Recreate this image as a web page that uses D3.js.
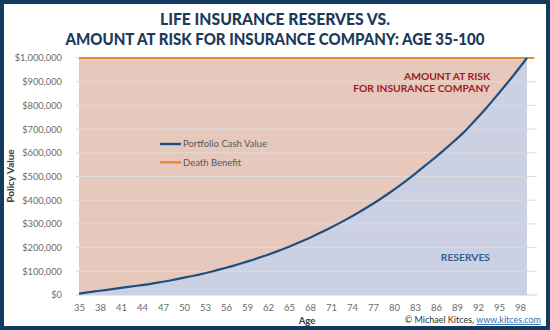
<!DOCTYPE html>
<html><head><meta charset="utf-8">
<script src="https://cdn.jsdelivr.net/npm/d3@7"></script>
<style>
html,body{margin:0;padding:0;background:#fff;}
svg{display:block;}
</style></head>
<body>
<svg id="c" width="550" height="330"></svg>
<script>
const ages = d3.range(35, 100);
// Portfolio cash value, ages 35..99 ($)
const cashValue = [
  6000, 10000, 14000, 18000, 22000, 26000, 30000, 34000, 38000, 42000,
  46000, 51000, 56000, 61000, 67000, 73000, 79000, 85000, 92000, 99000,
  107000, 115000, 123000, 132000, 141000, 150000, 160000, 170000, 181000, 192000,
  204000, 216000, 229000, 242000, 256000, 270000, 285000, 300000, 316000, 332000,
  349000, 367000, 385000, 404000, 424000, 445000, 466000, 488000, 511000, 535000,
  559000, 583000, 608000, 634000, 660000, 687000, 718000, 750000, 783000, 817000,
  852000, 888000, 924000, 962000, 1000000
];
const deathAges = d3.range(35, 101);
const deathBenefit = deathAges.map(() => 1000000);
const yTicks = [0,100000,200000,300000,400000,500000,600000,700000,800000,900000,1000000];
const xTicks = d3.range(35, 99, 3);
const titleLines = ["LIFE INSURANCE RESERVES VS.", "AMOUNT AT RISK FOR INSURANCE COMPANY: AGE 35-100"];
const seriesNames = ["Portfolio Cash Value", "Death Benefit"];

const svg = d3.select("#c");
const W = 550, H = 330;
svg.append("rect").attr("x",0).attr("y",0).attr("width",W).attr("height",H).attr("fill","#133b60");
svg.append("rect").attr("x",4).attr("y",4).attr("width",W-8).attr("height",H-8).attr("fill","#ffffff");

const x = d3.scaleLinear().domain([35, 99]).range([79, 527]);
const y = d3.scaleLinear().domain([0, 1000000]).range([295, 58]);

// areas
const pts = ages.map((a,i)=>({a, v: cashValue[i]}));
svg.append("path").datum(pts)
  .attr("fill","#e6c8bc")
  .attr("d", d3.area().x(d=>x(d.a)).y0(y(1000000)).y1(d=>y(d.v)));
svg.append("path").datum(pts)
  .attr("fill","#cbd1e3")
  .attr("d", d3.area().x(d=>x(d.a)).y0(y(0)).y1(d=>y(d.v)));

// gridlines
svg.append("g").selectAll("line").data(yTicks).join("line")
  .attr("x1",76).attr("x2",537)
  .attr("y1",d=>y(d)).attr("y2",d=>y(d))
  .attr("stroke",d=> d===0 ? "#d0d0d0" : "#dcdcdc").attr("stroke-width",1);

// y axis labels
const yAxis = d3.axisLeft(y).tickValues(yTicks).tickSize(0).tickPadding(0)
  .tickFormat(d => "$" + d3.format(",")(d));
const gy = svg.append("g").attr("transform","translate(62,0)").call(yAxis);
gy.select(".domain").remove();
gy.selectAll("text").attr("font-family","Lato, sans-serif").attr("font-size",9.3).attr("fill","#6b6b6b");

// x axis labels
const xAxis = d3.axisBottom(x).tickValues(xTicks).tickSize(0).tickPadding(0).tickFormat(d3.format("d"));
const gx = svg.append("g").attr("transform","translate(0,304.5)").call(xAxis);
gx.select(".domain").remove();
gx.selectAll("text").attr("font-family","Lato, sans-serif").attr("font-size",9.5).attr("fill","#6b6b6b");

// lines
svg.append("path").datum(deathAges.map((a,i)=>({a, v: deathBenefit[i]})))
  .attr("fill","none").attr("stroke","#e58a35").attr("stroke-width",2)
  .attr("d", d3.line().x(d=>x(d.a)).y(d=>y(d.v)));
svg.append("path").datum(pts)
  .attr("fill","none").attr("stroke","#1f4f7e").attr("stroke-width",2.2)
  .attr("d", d3.line().x(d=>x(d.a)).y(d=>y(d.v)));

// title
const titleW = [230, 419];
svg.append("g").selectAll("text").data(titleLines).join("text")
  .attr("x",275).attr("y",(d,i)=> i===0 ? 25.3 : 44.5)
  .attr("text-anchor","middle")
  .attr("textLength",(d,i)=>titleW[i]).attr("lengthAdjust","spacingAndGlyphs")
  .attr("font-family","Lato, sans-serif").attr("font-weight",900).attr("font-size",16.5)
  .attr("fill","#1b3b5c").text(d=>d);

// axis titles
svg.append("text").attr("transform","translate(14,176) rotate(-90)")
  .attr("text-anchor","middle").attr("font-family","Lato, sans-serif").attr("font-weight",700)
  .attr("font-size",10).attr("fill","#3a3a3a").text("Policy Value");
svg.append("text").attr("x",307).attr("y",323.5)
  .attr("text-anchor","middle").attr("font-family","Lato, sans-serif").attr("font-weight",700)
  .attr("font-size",9.5).attr("fill","#3a3a3a").text("Age");

// legend
const legColors = ["#1f4f7e","#e58a35"];
const lg = svg.append("g");
seriesNames.forEach((n,i)=>{
  const yy = 144 + i*18.3;
  lg.append("line").attr("x1",160).attr("x2",181).attr("y1",yy).attr("y2",yy)
    .attr("stroke",legColors[i]).attr("stroke-width",2.4);
  lg.append("text").attr("x",183).attr("y",yy+3.3)
    .attr("font-family","Lato, sans-serif").attr("font-size",9.5).attr("fill","#5a5a5a").text(n);
});

// annotations
svg.append("text").attr("x",490).attr("y",79.5).attr("text-anchor","end")
  .attr("font-family","Lato, sans-serif").attr("font-weight",700).attr("font-size",10.3)
  .attr("fill","#9e1b24").text("AMOUNT AT RISK");
svg.append("text").attr("x",490).attr("y",91.5).attr("text-anchor","end")
  .attr("font-family","Lato, sans-serif").attr("font-weight",700).attr("font-size",10.3)
  .attr("fill","#9e1b24").text("FOR INSURANCE COMPANY");
svg.append("text").attr("x",490).attr("y",261).attr("text-anchor","end")
  .attr("font-family","Lato, sans-serif").attr("font-weight",700).attr("font-size",10.3)
  .attr("fill","#2d6394").text("RESERVES");

// credit
const cr = svg.append("text").attr("x",541).attr("y",323).attr("text-anchor","end")
  .attr("font-family","Lato, sans-serif").attr("font-size",9).attr("fill","#333");
cr.append("tspan").text("© Michael Kitces, ");
cr.append("tspan").attr("fill","#2f6fb5").attr("text-decoration","underline").text("www.kitces.com");
</script>
</body></html>
